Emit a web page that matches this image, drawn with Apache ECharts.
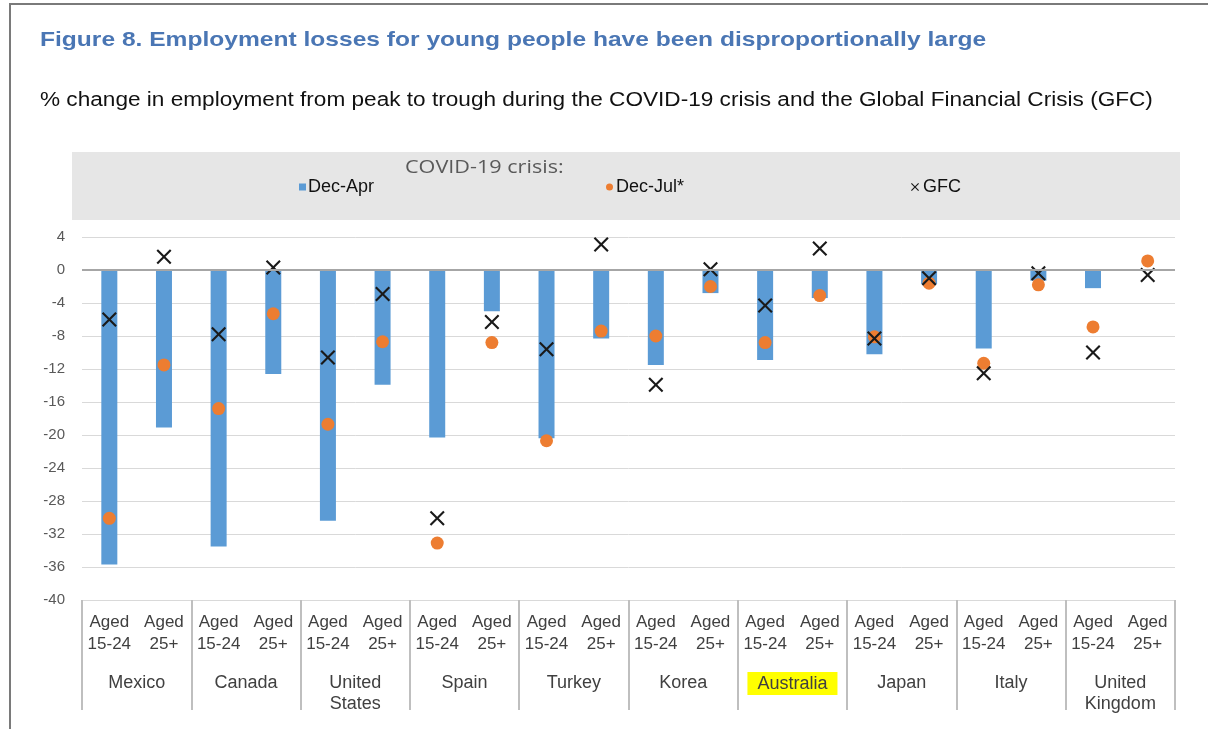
<!DOCTYPE html>
<html>
<head>
    <meta charset='utf-8'>
    <script src="https://cdn.jsdelivr.net/npm/echarts@6/dist/echarts.min.js"></script>
</head>
<body>
<style>
    html, body, #main {
        width: 100%;
        height: 100%;
        margin: 0;
        padding: 0;
        background: #fff;
    }
</style>
<div id="main"></div>
<script>
    var countries = ['Mexico', 'Canada', 'United\nStates', 'Spain', 'Turkey', 'Korea',
        'Australia', 'Japan', 'Italy', 'United\nKingdom'];
    var ageGroups = ['Aged\n15-24', 'Aged\n25+'];

    // COVID-19 crisis, Dec-Apr (bars)
    var decApr = [-35.7, -19.1, -33.5, -12.6, -30.4, -13.9, -20.3, -5.0, -20.4, -8.3,
        -11.5, -2.8, -10.9, -3.4, -10.2, -1.7, -9.5, -1.3, -2.2, 0];
    // COVID-19 crisis, Dec-Jul* (dots)
    var decJul = [-30.1, -11.5, -16.8, -5.3, -18.7, -8.7, -33.1, -8.8, -20.7, -7.4,
        -8.0, -2.0, -8.8, -3.1, -8.1, -1.6, -11.3, -1.8, -6.9, 1.1];
    // Global Financial Crisis (crosses)
    var gfc = [-6.0, 1.6, -7.8, 0.3, -10.6, -2.9, -30.1, -6.3, -9.6, 3.1,
        -13.9, 0.1, -4.3, 2.6, -8.3, -1.0, -12.5, -0.4, -10.0, -0.6];

    var yTicks = {min: -40, max: 4, interval: 4};

    var groups = [];
    countries.forEach(function () {
        ageGroups.forEach(function (a) { groups.push(a); });
    });

    var font = 'Liberation Sans, Arial, sans-serif';
    var crossPath = 'path://M0,1 L1,0 L5,4 L9,0 L10,1 L6,5 L10,9 L9,10 L5,6 L1,10 L0,9 L4,5 Z';

    var chart = echarts.init(document.getElementById('main'));

    chart.setOption({
        textStyle: {fontFamily: font},
        animation: false,
        graphic: [{
            type: 'rect',
            shape: {x: 10, y: 4, width: 1400, height: 900},
            style: {fill: 'none', stroke: '#7a7a7a', lineWidth: 2},
            z: -10
        }, {
            // title, stretched a little to the width of the original
            type: 'text',
            x: 40, y: 30, scaleX: 1.17,
            style: {
                text: 'Figure 8. Employment losses for young people have been disproportionally large',
                fill: '#4a76b4', font: 'bold 21px "Liberation Sans", Arial, sans-serif'
            }
        }, {
            type: 'text',
            x: 40, y: 90, scaleX: 1.13,
            style: {
                text: '% change in employment from peak to trough during the COVID-19 crisis and the Global Financial Crisis (GFC)',
                fill: '#111', font: '20px "Liberation Sans", Arial, sans-serif'
            }
        }, {
            type: 'rect',
            shape: {x: 72, y: 152, width: 1108, height: 68},
            style: {fill: '#e6e6e6'},
            z: -5
        }, {
            type: 'text',
            x: 405, y: 159, scaleX: 1.2,
            style: {text: 'COVID-19 crisis:', fill: '#595959', font: '18px "Open Sans", sans-serif'}
        }],
        legend: [{
            data: [{name: 'Dec-Apr', icon: 'rect'}],
            left: 294, top: 173,
            itemWidth: 7, itemHeight: 7,
            textStyle: {fontSize: 18, color: '#111', padding: [0, 0, 0, -3]}
        }, {
            data: [{name: 'Dec-Jul*', icon: 'circle'}],
            left: 601, top: 173,
            itemWidth: 7, itemHeight: 7,
            textStyle: {fontSize: 18, color: '#111', padding: [0, 0, 0, -2]}
        }, {
            data: [{name: 'GFC', icon: crossPath}],
            left: 906, top: 173,
            itemWidth: 8, itemHeight: 8,
            textStyle: {fontSize: 18, color: '#111', padding: [0, 0, 0, -1]}
        }],
        grid: {left: 82, right: 33, top: 237, bottom: 129},
        xAxis: [{
            type: 'category',
            data: groups,
            position: 'bottom',
            axisLine: {onZero: false, lineStyle: {color: '#d9d9d9', width: 1}},
            axisTick: {show: false},
            axisLabel: {
                interval: 0, margin: 11, fontSize: 17, lineHeight: 22, color: '#404040'
            }
        }, {
            type: 'category',
            data: countries,
            position: 'bottom',
            axisLine: {show: false, onZero: false},
            axisTick: {show: true, length: 110, lineStyle: {color: '#bfbfbf', width: 2}},
            axisLabel: {
                interval: 0, margin: 73, fontSize: 18, lineHeight: 21, color: '#404040',
                formatter: function (v) {
                    return v === 'Australia' ? '{hl|' + v + '}' : v;
                },
                rich: {
                    hl: {backgroundColor: '#ffff00', padding: [3, 10, 2, 10], fontSize: 18, color: '#404040'}
                }
            }
        }],
        yAxis: {
            type: 'value',
            min: yTicks.min, max: yTicks.max, interval: yTicks.interval,
            axisLine: {show: false},
            axisTick: {show: false},
            splitLine: {lineStyle: {color: '#d9d9d9', width: 1}},
            axisLabel: {fontSize: 15, color: '#595959', margin: 17}
        },
        series: [{
            name: 'Dec-Apr',
            type: 'bar',
            data: decApr,
            barWidth: 16,
            itemStyle: {color: '#5b9bd5'},
            markLine: {
                silent: true,
                symbol: 'none',
                label: {show: false},
                lineStyle: {color: '#a6a6a6', width: 2, type: 'solid'},
                data: [{yAxis: 0}]
            }
        }, {
            name: 'Dec-Jul*',
            type: 'scatter',
            data: decJul,
            symbol: 'circle',
            symbolSize: 13,
            itemStyle: {color: '#ed7d31', opacity: 1},
            z: 3
        }, {
            name: 'GFC',
            type: 'scatter',
            data: gfc,
            symbol: crossPath,
            symbolSize: 15,
            itemStyle: {color: '#1a1a1a', opacity: 1},
            z: 4
        }]
    });
</script>
</body>
</html>
